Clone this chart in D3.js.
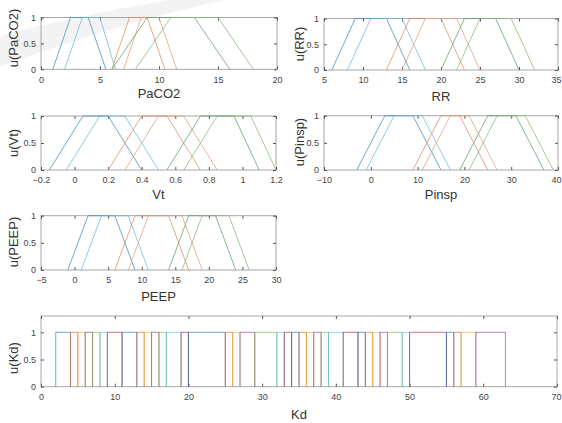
<!DOCTYPE html>
<html>
<head>
<meta charset="utf-8">
<script src="https://cdn.jsdelivr.net/npm/d3@7"></script>
<style>
  body { margin: 0; background: #fff; }
  svg { display: block; font-family: "Liberation Sans", Arial, sans-serif; }
</style>
</head>
<body>
<div id="viz"></div>
<script>
// membership functions, trapezoids [a b c d]
// order: low, low2, normal, normal2, high, high2
let paco2MF = [[1, 2.5, 4, 5.5], [2, 3.5, 5, 6.3], [6, 7.5, 9, 10.5], [7, 8.5, 10, 11.5], [6, 9, 13, 16], [8, 11, 15, 18]];
let rrMF = [[6, 9, 13, 16], [8, 11, 15, 18], [13, 16, 20, 23], [15, 18, 22, 25], [20, 23, 27, 30], [22, 25, 29, 32]];
let vtMF = [[-0.15, 0.05, 0.2, 0.4], [-0.05, 0.15, 0.3, 0.5], [0.2, 0.4, 0.55, 0.75], [0.3, 0.5, 0.65, 0.85], [0.55, 0.75, 0.95, 1.1], [0.65, 0.85, 1.05, 1.2]];
let pinspMF = [[-3, 3, 9, 15], [-1, 5, 11, 17], [9, 15, 19, 25], [11, 17, 21, 27], [19, 25, 31, 37], [21, 27, 33, 39]];
let peepMF = [[-1, 2, 6, 9], [1, 4, 8, 11], [6, 9, 14, 17], [8, 11, 16, 19], [14, 17, 21, 24], [16, 19, 23, 26]];

// edges of the crisp Kd sets
let kdEdges = [2, 4, 5, 6, 7, 8, 9, 11, 13, 14, 15, 16, 17, 19, 20, 25, 26, 27, 29, 32, 33, 34, 35, 36, 37, 38, 39, 41, 43, 44, 45, 46, 47, 49, 50, 55, 56, 57, 59, 63];

// axis ticks
let paco2Ticks = [0, 5, 10, 15, 20];
let rrTicks = [5, 10, 15, 20, 25, 30, 35];
let vtTicks = [-0.2, 0, 0.2, 0.4, 0.6, 0.8, 1, 1.2];
let pinspTicks = [-10, 0, 10, 20, 30, 40];
let peepTicks = [-5, 0, 5, 10, 15, 20, 25, 30];
let kdTicks = [0, 10, 20, 30, 40, 50, 60, 70];
let uTicks = [0, 0.5, 1];

let mfColors = ['#3f8fb4', '#6bb9d8', '#e08a62', '#d9a07c', '#5f9f62', '#86b878'];
let kdColors = ['#0072bd', '#d95319', '#edb120', '#7e2f8e', '#77ac30', '#4dbeee', '#a2142f'];

var width = 562, height = 423;

var svg = d3.select('#viz')
    .append('svg')
    .attr('width', width)
    .attr('height', height);

// faint watermark band top left
svg.append('path')
    .attr('d', 'M0,36 C60,20 120,8 170,0 L225,0 C150,16 80,38 0,66 Z')
    .attr('fill', '#a0a0a0')
    .attr('opacity', 0.13);

function drawAxes(p) {
    var x = d3.scaleLinear().domain(p.xdom).range([p.left, p.right]);
    var y = d3.scaleLinear().domain(p.ydom).range([p.bottom, p.top]);
    var g = svg.append('g');

    g.append('rect')
        .attr('x', p.left).attr('y', p.top)
        .attr('width', p.right - p.left).attr('height', p.bottom - p.top)
        .attr('fill', 'none')
        .attr('stroke', '#a8a8a8')
        .attr('stroke-width', 1);

    // ticks inside on all 4 sides
    var xb = g.append('g')
        .attr('transform', 'translate(0,' + p.bottom + ')')
        .call(d3.axisBottom(x).tickValues(p.xticks).tickSizeInner(-3).tickSizeOuter(0).tickPadding(7).tickFormat(d3.format('')))
        .call(a => a.select('.domain').remove());
    g.append('g')
        .attr('transform', 'translate(0,' + p.top + ')')
        .call(d3.axisTop(x).tickValues(p.xticks).tickSizeInner(-3).tickSizeOuter(0).tickFormat(''))
        .call(a => a.select('.domain').remove());
    g.append('g')
        .attr('transform', 'translate(' + p.left + ',0)')
        .call(d3.axisLeft(y).tickValues(uTicks).tickSizeInner(-3).tickSizeOuter(0).tickPadding(5).tickFormat(d3.format('')))
        .call(a => a.select('.domain').remove());
    g.append('g')
        .attr('transform', 'translate(' + p.right + ',0)')
        .call(d3.axisRight(y).tickValues(uTicks).tickSizeInner(-3).tickSizeOuter(0).tickFormat(''))
        .call(a => a.select('.domain').remove());

    g.selectAll('.tick line').attr('stroke', '#555');
    g.selectAll('.tick text')
        .attr('fill', '#444')
        .style('font-size', '9px')
        .style('font-family', '"Liberation Sans", Arial, sans-serif');

    // last x label runs into the page edge, keep it inside
    xb.selectAll('.tick:last-of-type text')
        .filter(() => p.right > width - 8)
        .attr('text-anchor', 'end')
        .attr('x', width - 1 - p.right);

    g.append('text')
        .attr('x', (p.left + p.right) / 2)
        .attr('y', p.bottom + p.xlabDy)
        .attr('text-anchor', 'middle')
        .attr('fill', '#333')
        .style('font-size', '13px')
        .text(p.xlabel);
    g.append('text')
        .attr('transform', 'translate(' + p.ylabX + ',' + p.ylabY + ') rotate(-90)')
        .attr('text-anchor', 'middle')
        .attr('dy', '0.35em')
        .attr('fill', '#333')
        .style('font-size', '13px')
        .text(p.ylabel);

    return {x: x, y: y};
}

function drawMF(p, mfs) {
    var s = drawAxes(p);
    var line = d3.line().x(d => s.x(d[0])).y(d => s.y(d[1]));
    var pts = mfs.map(m => [[m[0], 0], [m[1], 1], [m[2], 1], [m[3], 0]]);
    svg.append('g')
        .selectAll('path')
        .data(pts)
        .join('path')
        .attr('d', line)
        .attr('fill', 'none')
        .attr('stroke', (d, i) => mfColors[i])
        .attr('stroke-opacity', 0.75)
        .attr('stroke-width', 1);
}

drawMF({xdom: [0, 20], xticks: paco2Ticks, ydom: [0, 1], left: 41, right: 277, top: 17.5, bottom: 69.3,
        xlabel: 'PaCO2', ylabel: 'u(PaCO2)', xlabDy: 29, ylabX: 13, ylabY: 38}, paco2MF);
drawMF({xdom: [5, 35], xticks: rrTicks, ydom: [0, 1], left: 324, right: 558, top: 18.5, bottom: 70,
        xlabel: 'RR', ylabel: 'u(RR)', xlabDy: 31, ylabX: 299, ylabY: 44}, rrMF);
drawMF({xdom: [-0.2, 1.2], xticks: vtTicks, ydom: [0, 1], left: 41, right: 276, top: 116, bottom: 170,
        xlabel: 'Vt', ylabel: 'u(Vt)', xlabDy: 29, ylabX: 13, ylabY: 143}, vtMF);
drawMF({xdom: [-10, 40], xticks: pinspTicks, ydom: [0, 1], left: 324, right: 558, top: 115.7, bottom: 170,
        xlabel: 'Pinsp', ylabel: 'u(Pinsp)', xlabDy: 29, ylabX: 299, ylabY: 142}, pinspMF);
drawMF({xdom: [-5, 30], xticks: peepTicks, ydom: [0, 1], left: 41, right: 276, top: 215.7, bottom: 270,
        xlabel: 'PEEP', ylabel: 'u(PEEP)', xlabDy: 31, ylabX: 13, ylabY: 242}, peepMF);

// Kd: crisp sets between consecutive edges
var kd = drawAxes({xdom: [0, 70], xticks: kdTicks, ydom: [0, 1.3], left: 41, right: 557, top: 316, bottom: 386.7,
        xlabel: 'Kd', ylabel: 'u(Kd)', xlabDy: 32, ylabX: 13, ylabY: 358});
var kdSets = [];
for (var i = 0; i < kdEdges.length - 1; i++) {
    kdSets.push([kdEdges[i], kdEdges[i + 1]]);
}
var kdLine = d3.line().x(d => kd.x(d[0])).y(d => kd.y(d[1]));
svg.append('g')
    .selectAll('path')
    .data(kdSets)
    .join('path')
    .attr('d', d => kdLine([[d[0], 0], [d[0], 1], [d[1], 1], [d[1], 0]]))
    .attr('fill', 'none')
    .attr('stroke', (d, i) => kdColors[i % kdColors.length])
    .attr('stroke-opacity', 0.6)
    .attr('stroke-width', 1);
</script>
</body>
</html>
